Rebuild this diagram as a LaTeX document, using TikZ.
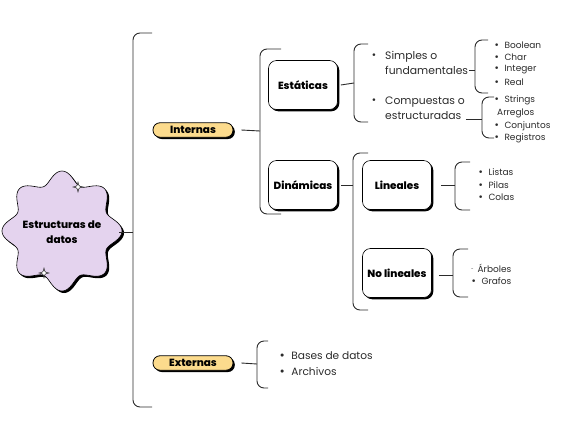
\documentclass[tikz,border=0pt]{standalone}
\usepackage{fontspec}
\setmainfont{Poppins}[BoldFont={Poppins ExtraBold}]
\newfontfamily\dvfont{DejaVu Sans}
\newcommand\bul{{\dvfont •}}
\usetikzlibrary{shadows}
\definecolor{lav}{HTML}{E4D3EE}
\definecolor{pill}{HTML}{FCDB8D}
\definecolor{ink}{HTML}{2B2B2B}
\begin{document}
\begin{tikzpicture}[x=1pt,y=-1pt,
  line/.style={draw=ink,line width=0.9pt},
  brace/.style={draw=ink,line width=0.9pt,rounded corners=7pt},
  pillbox/.style={draw=black,line width=0.8pt,fill=pill,rounded corners=7pt,
    minimum width=80pt,minimum height=14.5pt,inner sep=0pt,
    font=\bfseries\fontsize{10.4}{11}\selectfont,
    drop shadow={shadow xshift=1.8pt,shadow yshift=-1.8pt,fill=black,opacity=1}},
  catbox/.style={draw=black,line width=0.6pt,fill=white,rounded corners=8pt,
    minimum width=69pt,minimum height=49pt,inner sep=0pt,
    font=\bfseries\fontsize{10.4}{12}\selectfont,
    drop shadow={shadow xshift=1.8pt,shadow yshift=-1.8pt,fill=black,opacity=1}},
  item/.style={anchor=west,inner sep=0pt,text=ink,font=\fontsize{9}{10}\selectfont},
  bigitem/.style={anchor=west,inner sep=0pt,text=ink,align=left,
    font=\fontsize{10.8}{15}\selectfont},
  dot/.style={inner sep=0pt,text=ink,font=\fontsize{9}{10}\selectfont}]
\useasboundingbox (0,0) rectangle (566,440);

% wavy badge with its shadow
\fill[black] plot[domain=0:360,samples=241,smooth] ({62+2+(54+6*cos(8*\x))*cos(\x)},{231+2+(54+6*cos(8*\x))*sin(\x)}) -- cycle;
\filldraw[fill=lav,draw=black,line width=0.6pt] plot[domain=0:360,samples=241,smooth] ({62+(54+6*cos(8*\x))*cos(\x)},{231+(54+6*cos(8*\x))*sin(\x)}) -- cycle;
\node[align=center,font=\bfseries\fontsize{10.4}{15}\selectfont] (root) at (62,232) {Estructuras de\\datos};
\coordinate (rootR) at (119,232);
% sparkles
\foreach \p/\q in {78/187,44/273}{
  \filldraw[fill=white,draw=black,line width=0.4pt] (\p,\q-5) .. controls (\p+0.8,\q-0.8) .. (\p+5,\q) .. controls (\p+0.8,\q+0.8) .. (\p,\q+5) .. controls (\p-0.8,\q+0.8) .. (\p-5,\q) .. controls (\p-0.8,\q-0.8) .. cycle;}

% main brace
\draw[brace] (152,33) -- (133,33) -- (133,407) -- (152,407);
\coordinate (b1) at (133,232);
\draw[line] (rootR) -- (b1);

% Internas
\node[pillbox] (int) at (193,130) {Internas};
\coordinate (b2) at (260,131);
\draw[line] ([xshift=8pt]int.east) -- (b2);
\draw[brace] (281,49) -- (260,49) -- (260,214) -- (281,214);

\node[catbox] (est) at (303,85) {Estáticas};
\node[catbox] (din) at (303,185) {Dinámicas};

% Estaticas branch
\coordinate (b3) at (354,83);
\draw[line] ([xshift=3pt]est.east) -- (b3);
\draw[brace] (368,44) -- (354,44) -- (354,122) -- (368,122);
\node[dot] (d1) at (374,56) {\bul};
\node[bigitem] (simp) at (385,63) {Simples o\\fundamentales};
\node[dot] (d2) at (374,101) {\bul};
\node[bigitem] (comp) at (385,108) {Compuestas o\\estructuradas};

\coordinate (b4) at (475,70);
\draw[line] ([xshift=1pt]simp.east |- b4) -- (b4);
\draw[brace] (488,40) -- (475,40) -- (475,93) -- (488,93);
\node[item] (boo) at (494,45) {\bul\hspace{5pt}Boolean};
\node[item] (cha) at (494,57) {\bul\hspace{5pt}Char};
\node[item] (ing) at (494,70) {\bul\hspace{5pt}Integer};
\node[item] (rea) at (494,82) {\bul\hspace{5pt}Real};

\coordinate (b5) at (482,119);
\draw[line] ([xshift=1pt]comp.east |- b5) -- (b5);
\draw[brace] (494,97) -- (482,97) -- (482,138) -- (494,138);
\node[item] (str) at (494,100) {\bul\hspace{5pt}Strings};
\node[item] (arr) at (497,113) {Arreglos};
\node[item] (con) at (494,126) {\bul\hspace{5pt}Conjuntos};
\node[item] (reg) at (494,138) {\bul\hspace{5pt}Registros};

% Dinamicas branch
\coordinate (b6) at (353,185);
\draw[line] ([xshift=3pt]din.east) -- (b6);
\draw[brace] (368,153) -- (353,153) -- (353,310) -- (368,310);
\node[catbox] (lin) at (397,185) {Lineales};
\node[catbox] (nol) at (397,273) {No lineales};

\coordinate (b7) at (455,185);
\draw[line] ([xshift=9pt]lin.east) -- (b7);
\draw[brace] (470,162) -- (455,162) -- (455,210) -- (470,210);
\node[item] (lis) at (478,172) {\bul\hspace{5pt}Listas};
\node[item] (pil) at (478,185) {\bul\hspace{5pt}Pilas};
\node[item] (col) at (478,197) {\bul\hspace{5pt}Colas};

\coordinate (b8) at (453,275);
\draw[line] ([xshift=7pt]nol.east |- b8) -- (b8);
\draw[brace] (468,249) -- (453,249) -- (453,297) -- (468,297);
\node[item] (arb) at (471,268) {\raisebox{2pt}{\scalebox{0.5}{-}}\hspace{4pt}Árboles};
\node[item] (gra) at (471,281) {\bul\hspace{5pt}Grafos};

% Externas
\node[pillbox] (ext) at (193,363) {Externas};
\coordinate (b9) at (257,364);
\draw[line] ([xshift=8pt]ext.east) -- (b9);
\draw[brace] (268,341) -- (257,341) -- (257,388) -- (268,388);
\node[item,font=\fontsize{10.6}{11}\selectfont] (bas) at (279,356) {\bul\hspace{6pt}Bases de datos};
\node[item,font=\fontsize{10.6}{11}\selectfont] (arc) at (279,372) {\bul\hspace{6pt}Archivos};
\end{tikzpicture}
\end{document}
